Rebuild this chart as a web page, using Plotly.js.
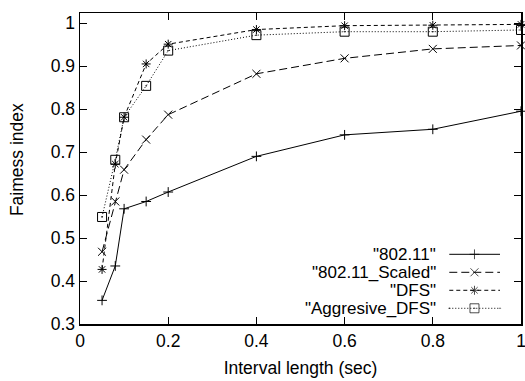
<!DOCTYPE html>
<html>
<head>
<meta charset="utf-8">
<script src="https://cdn.plot.ly/plotly-3.0.1.min.js"></script>
<style>html,body{margin:0;padding:0;background:#fff;}#chart{width:525px;height:381px;}</style>
</head>
<body>
<div id="chart"></div>
<script>
// ---- data ----
const intervals = [0.05, 0.08, 0.1, 0.15, 0.2, 0.4, 0.6, 0.8, 1.0];
const seriesNames = ['"802.11"', '"802.11_Scaled"', '"DFS"', '"Aggresive_DFS"'];
const fair80211 = [0.355, 0.435, 0.568, 0.585, 0.607, 0.690, 0.740, 0.753, 0.795];
const fairScaled = [0.468, 0.585, 0.659, 0.729, 0.787, 0.882, 0.918, 0.940, 0.948];
const fairDFS = [0.427, 0.672, 0.781, 0.905, 0.951, 0.985, 0.994, 0.995, 0.997];
const fairAggDFS = [0.549, 0.682, 0.781, 0.854, 0.936, 0.972, 0.980, 0.980, 0.984];
const xTickVals = [0, 0.2, 0.4, 0.6, 0.8, 1];
const xTickText = ['0', '0.2', '0.4', '0.6', '0.8', '1'];
const yTickVals = [0.3, 0.4, 0.5, 0.6, 0.7, 0.8, 0.9, 1];
const yTickText = ['0.3', '0.4', '0.5', '0.6', '0.7', '0.8', '0.9', '1'];

// ---- styles ----
const FONT = 'Liberation Sans, Arial, Helvetica, sans-serif';
const FS = 17.5;
const KEY_FS = 17;
const styles = [
  {dash: 'solid', symbol: 'cross-thin', size: 7},
  {dash: '8px,4px', symbol: 'x-thin', size: 8},
  {dash: '4px,3px', symbol: 'asterisk', size: 7.5},
  {dash: '1px,2px', symbol: 'square-open-dot', size: 9}
];
const values = [fair80211, fairScaled, fairDFS, fairAggDFS];

const traces = [];
values.forEach((v, i) => {
  traces.push({
    x: intervals, y: v, type: 'scatter', mode: 'lines+markers',
    name: seriesNames[i], showlegend: false, cliponaxis: false,
    line: {color: '#000', width: 1, dash: styles[i].dash},
    marker: {symbol: styles[i].symbol, size: styles[i].size, color: '#000',
             line: {color: '#000', width: 1}}
  });
});

// ---- key (gnuplot style: text then sample), on a hidden overlay axis ----
const keyRowsY = [0.2241, 0.1662, 0.1084, 0.0505];
const keyLineX = [0.8374, 0.8945, 0.9524];
const keyTextX = 0.8088;
const annotations = [];
values.forEach((v, i) => {
  traces.push({
    x: keyLineX, y: [keyRowsY[i], keyRowsY[i], keyRowsY[i]],
    xaxis: 'x2', yaxis: 'y2', type: 'scatter', mode: 'lines+markers',
    showlegend: false, hoverinfo: 'skip', cliponaxis: false,
    line: {color: '#000', width: 1, dash: styles[i].dash},
    marker: {symbol: styles[i].symbol, size: [0, styles[i].size, 0], color: '#000',
             line: {color: '#000', width: 1}}
  });
  annotations.push({
    xref: 'paper', yref: 'paper', x: keyTextX, y: keyRowsY[i],
    xanchor: 'right', yanchor: 'middle', showarrow: false, borderpad: 0,
    text: seriesNames[i], font: {family: FONT, size: KEY_FS, color: '#000'}
  });
});
annotations.push({
  xref: 'paper', yref: 'paper', x: -0.143, y: 0.53, textangle: -90,
  xanchor: 'center', yanchor: 'middle', showarrow: false,
  text: 'Faimess index', font: {family: FONT, size: FS, color: '#000'}
});

const layout = {
  width: 525, height: 381,
  margin: {l: 80, r: 4, t: 13, b: 57},
  paper_bgcolor: '#fff', plot_bgcolor: '#fff',
  font: {family: FONT, size: FS, color: '#000'},
  showlegend: false,
  xaxis: {
    range: [0, 1], tickvals: xTickVals, ticktext: xTickText,
    ticks: 'inside', ticklen: 7, tickwidth: 1, tickcolor: '#000',
    showline: true, linecolor: '#000', linewidth: 1.5, mirror: 'ticks',
    showgrid: false, zeroline: false, ticklabeloverflow: 'allow',
    tickfont: {family: FONT, size: FS, color: '#000'},
    title: {text: 'Interval length (sec)', font: {family: FONT, size: FS, color: '#000'}, standoff: 12}
  },
  yaxis: {
    range: [0.3, 1.0235], tickvals: yTickVals, ticktext: yTickText,
    ticks: 'inside', ticklen: 7, tickwidth: 1, tickcolor: '#000',
    showline: true, linecolor: '#000', linewidth: 1.5, mirror: 'ticks',
    showgrid: false, zeroline: false, ticklabeloverflow: 'allow',
    tickfont: {family: FONT, size: FS, color: '#000'}
  },
  xaxis2: {overlaying: 'x', range: [0, 1], visible: false, fixedrange: true},
  yaxis2: {overlaying: 'y', range: [0, 1], visible: false, fixedrange: true},
  annotations: annotations
};

Plotly.newPlot('chart', traces, layout, {displayModeBar: false, staticPlot: true});
</script>
</body>
</html>
